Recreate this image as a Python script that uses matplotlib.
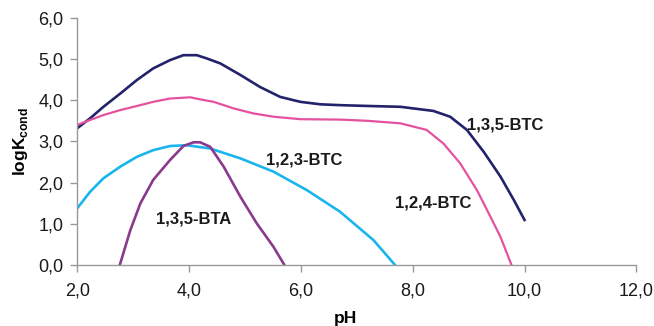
import numpy as np
import matplotlib
matplotlib.use('Agg')
import matplotlib.pyplot as plt

plt.rcParams['font.family'] = ['Liberation Sans', 'DejaVu Sans']

# 1,3,5-BTC (navy)
ph_135btc = [2.0, 2.23, 2.47, 2.77, 3.07, 3.36, 3.66, 3.90, 4.14, 4.32, 4.56,
             4.92, 5.27, 5.63, 5.99, 6.35, 6.70, 7.20, 7.78, 8.37, 8.67, 8.97,
             9.27, 9.57, 9.81, 10.0]
k_135btc = [3.32, 3.56, 3.84, 4.16, 4.49, 4.77, 4.97, 5.09, 5.09, 5.01, 4.89,
            4.61, 4.32, 4.08, 3.96, 3.90, 3.88, 3.86, 3.84, 3.74, 3.60, 3.28,
            2.75, 2.15, 1.58, 1.10]

# 1,2,4-BTC (pink)
ph_124btc = [2.0, 2.23, 2.47, 2.77, 3.07, 3.36, 3.66, 4.02, 4.20, 4.44, 4.80,
             5.15, 5.51, 5.99, 6.70, 7.20, 7.78, 8.25, 8.55, 8.85, 9.15, 9.39,
             9.57, 9.77]
k_124btc = [3.40, 3.52, 3.64, 3.76, 3.86, 3.96, 4.04, 4.07, 4.02, 3.96, 3.80,
            3.68, 3.60, 3.54, 3.53, 3.50, 3.44, 3.28, 2.95, 2.47, 1.82, 1.18,
            0.69, 0.0]

# 1,2,3-BTC (cyan)
ph_123btc = [2.0, 2.23, 2.47, 2.77, 3.07, 3.36, 3.66, 3.96, 4.38, 4.92, 5.51,
             6.11, 6.70, 7.30, 7.69]
k_123btc = [1.38, 1.78, 2.11, 2.39, 2.63, 2.79, 2.89, 2.91, 2.83, 2.59, 2.27,
            1.82, 1.30, 0.61, 0.0]

# 1,3,5-BTA (purple)
ph_135bta = [2.76, 2.95, 3.13, 3.36, 3.66, 3.90, 4.08, 4.20, 4.38, 4.62, 4.92,
             5.21, 5.51, 5.71]
k_135bta = [0.0, 0.85, 1.50, 2.07, 2.55, 2.89, 2.98, 2.98, 2.87, 2.39, 1.66,
            1.02, 0.45, 0.0]

xticks = [2, 4, 6, 8, 10, 12]
yticks = [0, 1, 2, 3, 4, 5, 6]

fig = plt.figure(figsize=(6.54, 3.26), dpi=100)
ax = fig.add_axes([0.118, 0.186, 0.855, 0.76])

ax.plot(ph_135btc, k_135btc, color='#23236b', lw=1.9)
ax.plot(ph_124btc, k_124btc, color='#e4529f', lw=1.6)
ax.plot(ph_123btc, k_123btc, color='#1bb5ee', lw=1.9)
ax.plot(ph_135bta, k_135bta, color='#8a3a8c', lw=1.9)

lab = dict(fontsize=12, fontweight='bold', color='#1a1a1a', ha='center', va='center')
ax.text(9.66, 3.4, '1,3,5-BTC', **lab)
ax.text(6.06, 2.55, '1,2,3-BTC', **lab)
ax.text(8.37, 1.5, '1,2,4-BTC', **lab)
ax.text(4.08, 1.12, '1,3,5-BTA', **lab)

ax.set_xlim(2, 12)
ax.set_ylim(0, 6)
ax.set_xticks(xticks)
ax.set_yticks(yticks)
ax.set_xticklabels([('%.1f' % v).replace('.', ',') for v in xticks])
ax.set_yticklabels([('%.1f' % v).replace('.', ',') for v in yticks])
ax.tick_params(labelsize=13, colors='#999999', length=5, width=1, labelcolor='#1a1a1a')
ax.tick_params(axis='x', pad=7)
ax.tick_params(axis='y', pad=5)

for s in ['top', 'right']:
    ax.spines[s].set_visible(False)
for s in ['left', 'bottom']:
    ax.spines[s].set_color('#999999')
    ax.spines[s].set_linewidth(1)

ax.set_ylabel(r'logK$_{\mathregular{cond}}$', fontsize=12.5, fontweight='bold', labelpad=6)
ax.set_xlabel('pH', fontsize=12.5, fontweight='bold')
ax.xaxis.set_label_coords(0.48, -0.185)

fig.savefig('out.png', dpi=100)
